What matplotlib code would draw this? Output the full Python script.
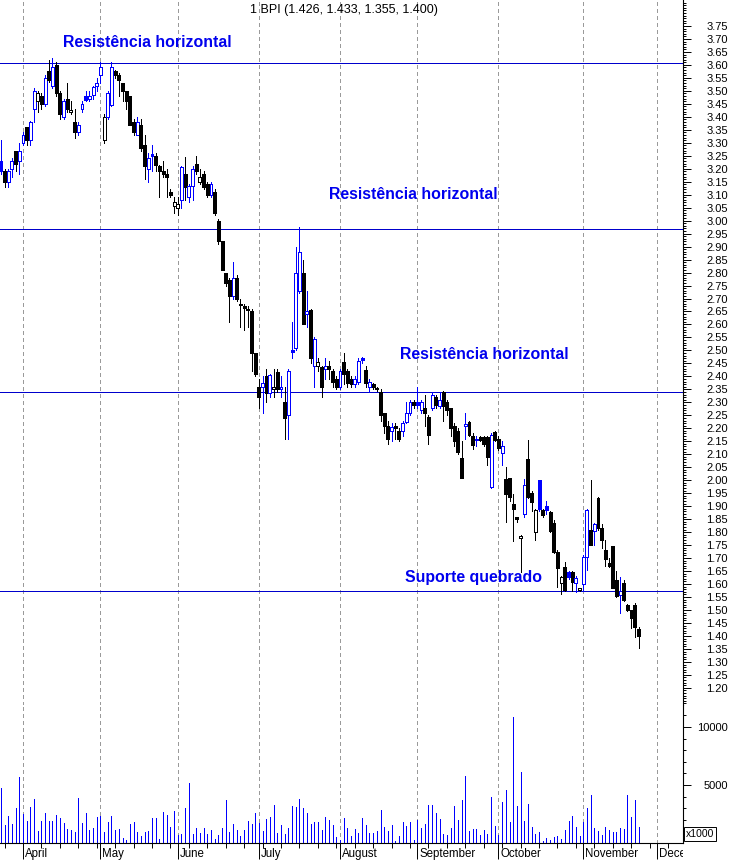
import numpy as np
import matplotlib
matplotlib.use("Agg")
import matplotlib.pyplot as plt
from matplotlib.ticker import FixedLocator, FormatStrFormatter, NullFormatter
from matplotlib.transforms import Bbox, TransformedBbox

plt.rcParams['font.family'] = ['Liberation Sans', 'DejaVu Sans']

# daily OHLC, late March -> late November
opens = [3.23, 3.19, 3.15, 3.20, 3.27, 3.23,
         3.30, 3.36, 3.31, 3.43, 3.46, 3.48, 3.45, 3.575, 3.52, 3.60, 3.49, 3.40, 3.47, 3.42,
         3.38, 3.34, 3.43, 3.48, 3.47, 3.485, 3.52,
         3.56, 3.31, 3.40, 3.445, 3.575, 3.56, 3.53, 3.50, 3.48, 3.38, 3.33, 3.37, 3.29, 3.20,
         3.255, 3.25, 3.21, 3.19, 3.18, 3.11, 3.055,
         3.05, 3.08, 3.18, 3.09, 3.135, 3.22, 3.15, 3.18, 3.14, 3.10, 3.11, 3.00, 2.92, 2.80,
         2.77, 2.71, 2.78, 2.68, 2.67, 2.66, 2.65,
         2.49, 2.36, 2.36, 2.40, 2.335, 2.35, 2.415, 2.35, 2.30, 2.25, 2.50, 2.51, 2.73, 2.80,
         2.64, 2.655, 2.44, 2.44, 2.435, 2.43, 2.44, 2.42, 2.39,
         2.36, 2.455, 2.42, 2.39, 2.37, 2.38, 2.47, 2.425, 2.36, 2.37, 2.355,
         2.34, 2.26, 2.21, 2.19, 2.21, 2.19, 2.19, 2.225, 2.26, 2.30,
         2.30, 2.27, 2.28, 2.245, 2.28, 2.32, 2.285, 2.34, 2.30, 2.28, 2.21, 2.19, 2.085, 2.21,
         2.225, 2.17, 2.155, 2.165, 2.165, 2.165,
         1.975, 2.185, 2.16, 2.105, 2.005, 2.01, 1.91, 1.86, 1.777, 1.87, 2.083, 1.95, 1.80,
         2.00, 1.885, 1.90, 1.877, 1.836, 1.725, 1.605, 1.666, 1.647, 1.647, 1.605, 1.576,
         1.60, 1.705, 1.81, 1.805, 1.93, 1.817, 1.73, 1.68, 1.745, 1.616, 1.557, 1.605, 1.52,
         1.50, 1.52, 1.426]
highs = [3.31, 3.20, 3.20, 3.24, 3.27, 3.30,
         3.34, 3.36, 3.385, 3.51, 3.50, 3.49, 3.56, 3.62, 3.625, 3.61, 3.50, 3.47, 3.53, 3.46,
         3.43, 3.38, 3.46, 3.50, 3.50, 3.52, 3.55,
         3.61, 3.41, 3.50, 3.61, 3.58, 3.57, 3.53, 3.50, 3.48, 3.39, 3.40, 3.39, 3.33, 3.26,
         3.29, 3.26, 3.215, 3.23, 3.20, 3.12, 3.09,
         3.09, 3.21, 3.245, 3.14, 3.21, 3.25, 3.20, 3.19, 3.15, 3.15, 3.12, 3.005, 2.92, 2.80,
         2.78, 2.84, 2.79, 2.70, 2.68, 2.67, 2.66,
         2.49, 2.39, 2.40, 2.43, 2.41, 2.43, 2.43, 2.40, 2.36, 2.43, 2.61, 2.90, 2.975, 2.85,
         2.73, 2.66, 2.55, 2.47, 2.44, 2.47, 2.46, 2.43, 2.40,
         2.43, 2.49, 2.43, 2.40, 2.40, 2.47, 2.475, 2.44, 2.39, 2.375, 2.36,
         2.35, 2.26, 2.23, 2.22, 2.22, 2.20, 2.23, 2.30, 2.31, 2.31,
         2.36, 2.31, 2.33, 2.25, 2.34, 2.33, 2.34, 2.345, 2.31, 2.28, 2.22, 2.20, 2.15, 2.26,
         2.23, 2.18, 2.17, 2.17, 2.17, 2.17,
         2.18, 2.19, 2.17, 2.15, 2.05, 2.01, 1.945, 1.86, 1.79, 2.005, 2.155, 1.96, 1.89,
         2.00, 1.89, 1.92, 1.88, 1.845, 1.73, 1.63, 1.685, 1.65, 1.65, 1.63, 1.586,
         1.71, 1.89, 2.00, 1.835, 1.935, 1.83, 1.77, 1.70, 1.745, 1.65, 1.627, 1.615, 1.525,
         1.50, 1.527, 1.433]
lows = [3.18, 3.13, 3.13, 3.17, 3.19, 3.18,
        3.29, 3.29, 3.29, 3.38, 3.42, 3.43, 3.44, 3.535, 3.51, 3.48, 3.39, 3.39, 3.42, 3.41,
        3.32, 3.33, 3.42, 3.46, 3.46, 3.47, 3.50,
        3.53, 3.30, 3.39, 3.44, 3.55, 3.48, 3.46, 3.43, 3.37, 3.33, 3.33, 3.27, 3.16, 3.15,
        3.19, 3.19, 3.09, 3.17, 3.09, 3.09, 3.03,
        3.02, 3.05, 3.08, 3.07, 3.08, 3.18, 3.14, 3.12, 3.09, 3.09, 3.02, 2.91, 2.81, 2.75,
        2.61, 2.70, 2.69, 2.59, 2.58, 2.59, 2.42,
        2.40, 2.28, 2.26, 2.30, 2.32, 2.32, 2.34, 2.32, 2.16, 2.16, 2.47, 2.50, 2.72, 2.60,
        2.59, 2.45, 2.36, 2.42, 2.32, 2.39, 2.39, 2.36, 2.35,
        2.35, 2.37, 2.36, 2.36, 2.36, 2.37, 2.45, 2.36, 2.34, 2.35, 2.345,
        2.23, 2.18, 2.14, 2.15, 2.16, 2.15, 2.17, 2.22, 2.25, 2.28,
        2.28, 2.26, 2.21, 2.14, 2.27, 2.28, 2.28, 2.23, 2.25, 2.17, 2.13, 2.10, 2.01, 2.16,
        2.17, 2.12, 2.13, 2.15, 2.13, 2.06,
        1.97, 2.15, 2.115, 2.06, 1.84, 1.92, 1.765, 1.84, 1.647, 1.86, 1.93, 1.88, 1.77,
        1.88, 1.86, 1.87, 1.80, 1.72, 1.59, 1.56, 1.575, 1.62, 1.575, 1.57, 1.573,
        1.573, 1.655, 1.75, 1.75, 1.81, 1.74, 1.67, 1.665, 1.585, 1.55, 1.49, 1.535, 1.495,
        1.43, 1.396, 1.355]
closes = [3.19, 3.15, 3.19, 3.23, 3.22, 3.27,
          3.33, 3.31, 3.38, 3.50, 3.49, 3.45, 3.55, 3.54, 3.59, 3.49, 3.41, 3.46, 3.43, 3.425,
          3.34, 3.37, 3.45, 3.465, 3.48, 3.515, 3.53,
          3.59, 3.40, 3.49, 3.59, 3.56, 3.54, 3.50, 3.46, 3.37, 3.34, 3.38, 3.28, 3.21, 3.24,
          3.25, 3.215, 3.19, 3.18, 3.17, 3.10, 3.07,
          3.065, 3.205, 3.13, 3.135, 3.20, 3.19, 3.17, 3.13, 3.10, 3.14, 3.03, 2.92, 2.81, 2.76,
          2.71, 2.78, 2.70, 2.675, 2.665, 2.655, 2.49,
          2.41, 2.32, 2.375, 2.335, 2.405, 2.36, 2.35, 2.36, 2.24, 2.42, 2.495, 2.80, 2.88, 2.60,
          2.65, 2.47, 2.545, 2.455, 2.36, 2.44, 2.43, 2.38, 2.36,
          2.42, 2.41, 2.375, 2.37, 2.39, 2.46, 2.465, 2.375, 2.38, 2.36, 2.35,
          2.25, 2.21, 2.16, 2.205, 2.20, 2.16, 2.22, 2.26, 2.30, 2.29,
          2.29, 2.30, 2.26, 2.175, 2.33, 2.29, 2.31, 2.285, 2.27, 2.20, 2.15, 2.11, 2.01, 2.215,
          2.175, 2.135, 2.16, 2.155, 2.14, 2.09,
          2.175, 2.155, 2.125, 2.13, 1.945, 1.935, 1.89, 1.85, 1.785, 1.98, 1.935, 1.915, 1.885,
          1.89, 1.865, 1.885, 1.806, 1.725, 1.663, 1.627, 1.577, 1.627, 1.608, 1.625, 1.585,
          1.705, 1.885, 1.75, 1.83, 1.815, 1.77, 1.695, 1.67, 1.585, 1.555, 1.573, 1.54, 1.50,
          1.47, 1.435, 1.400]
# volume, thousands of shares
volumes = [4700, 1550, 2330, 1640, 3040, 5660, 2500, 1900, 3100, 3790,
           1030, 1900, 2560, 1900, 1900, 2410, 2180, 1750, 1210, 1120,
           980, 3910, 1720, 2620, 1120, 1320, 2240, 2360, 980, 1810,
           2330, 1150, 1240, 460, 260, 1670, 1810, 980, 630, 980,
           1060, 2180, 2180, 340, 2700, 2410, 1410, 2790, 690, 780,
           3040, 5140, 780, 1320, 890, 1320, 780, 1120, 340, 690,
           1320, 3710, 980, 1610, 1150, 630, 1120, 1920, 1610, 2560,
           1750, 1060, 2100, 2240, 3280, 890, 1580, 780, 1320, 3190,
           3130, 3820, 3040, 2620, 1640, 1780, 1780, 1120, 2270, 1980,
           1550, 540, 260, 2180, 1290, 630, 1210, 890, 2150, 1550,
           890, 890, 1030, 2840, 1380, 1030, 1550, 170, 600, 1810,
           1470, 1810, 300, 2010, 1320, 1640, 3280, 3280, 2590, 2070, 780,
           720, 1320, 3190, 2010, 3710, 5780, 1010, 1180, 1210, 720,
           1120, 780, 3970, 1470, 720, 3530, 4570, 1810, 10890, 3190,
           6120, 1900, 3360, 1410, 780, 920, 200, 430, 250, 540, 630, 340,
           1120, 1900, 2330, 1410, 630, 1810, 3040, 4140, 1320, 1030,
           690, 1410, 1120, 950, 950, 1320, 1240, 4140, 2270, 3710, 1410]

months = ["April", "May", "June", "July", "August", "September", "October", "November", "December"]
month_start = [6, 27, 48, 70, 92, 113, 135, 158, 178]

levels = [3.607, 2.968, 2.34, 1.574]
notes = ["Resistência horizontal", "Resistência horizontal", "Resistência horizontal", "Suporte quebrado"]
note_pos = [(16.85, 3.688), (89.0, 3.099), (108.3, 2.483), (109.6, 1.624)]

n = len(opens)
x = np.arange(n)
o = np.array(opens); h = np.array(highs); l = np.array(lows); c = np.array(closes)
prev = np.r_[c[0] - 1, c[:-1]]
# blue = up on the day, black = down; hollow = close above open
cols = np.where(c >= prev, '#0000ff', '#000000')
faces = np.where(c > o, 'white', cols)
bottoms = np.minimum(o, c)
heights = np.maximum(np.abs(c - o), 0.004)

W, H = 733, 860
PX = 72 / 100   # one pixel in points
fig = plt.figure(figsize=(W / 100, H / 100), dpi=100)
ax = fig.add_axes([0, 1 - 705 / H, 683 / W, 705 / H])
axv = fig.add_axes([0, 17 / H, 683 / W, 138 / H], sharex=ax)

# candles
ax.vlines(x, l, h, colors=cols, linewidth=PX, zorder=2, antialiased=False)
ax.bar(x, heights, bottom=bottoms, width=0.8, color=faces, edgecolor=cols,
       linewidth=PX, zorder=3, antialiased=False)

for v in levels:
    ax.axhline(v, color='#0000cc', linewidth=PX, zorder=1, antialiased=False)

for txt, (px, py) in zip(notes, note_pos):
    ax.text(px, py, txt, color='#0000ee', fontsize=11.4, fontweight='bold',
            ha='left', va='center')

axv.vlines(x, 0, volumes, colors='#0000ff', linewidth=PX, antialiased=False)

for a in (ax, axv):
    for m in month_start:
        a.axvline(m, color='#9a9a9a', linestyle=(0, (3, 3)), linewidth=PX, zorder=0,
                  antialiased=False)
    a.spines['left'].set_visible(False)
    a.spines['top'].set_visible(False)
    a.spines['right'].set_linewidth(0.8)
    a.yaxis.tick_right()
    a.tick_params(axis='y', which='major', direction='out', length=5.8, width=0.7,
                  labelsize=8, pad=26.6)
    a.tick_params(axis='y', which='minor', direction='out', length=2.5, width=0.7)

ax.spines['bottom'].set_visible(False)
ax.set_xlim(-0.24, 185.06)
ax.set_ylim(1.134, 3.850)
ax.yaxis.set_major_locator(FixedLocator(np.round(np.arange(1.20, 3.751, 0.05), 2)))
ax.yaxis.set_major_formatter(FormatStrFormatter('%.2f'))
ax.yaxis.set_minor_locator(FixedLocator(np.round(np.arange(1.14, 3.85, 0.01), 2)))
ax.tick_params(axis='x', which='both', bottom=False, labelbottom=False)

axv.set_ylim(0, 11900)
axv.yaxis.set_major_locator(FixedLocator([5000, 10000]))
axv.yaxis.set_major_formatter(FormatStrFormatter('%d'))
axv.yaxis.set_minor_locator(FixedLocator(np.arange(1000, 11001, 1000)))
axv.spines['bottom'].set_linewidth(0.8)
axv.xaxis.set_major_locator(FixedLocator(month_start))
axv.xaxis.set_major_formatter(NullFormatter())
axv.xaxis.set_minor_locator(FixedLocator(np.arange(1, n + 10, 5)))
axv.tick_params(axis='x', which='major', direction='out', length=11.5, width=0.7)
axv.tick_params(axis='x', which='minor', direction='out', length=3.6, width=0.7)

for a in (ax, axv):
    plt.setp(a.get_yticklabels(), ha='right')

clip = TransformedBbox(Bbox([[0, 0], [683 / W, 1]]), fig.transFigure)
for name, m in zip(months, month_start):
    t = axv.annotate(name, xy=(m, 0), xycoords=('data', 'axes fraction'),
                     xytext=(1.5, -7.6), textcoords='offset points',
                     ha='left', va='center', fontsize=8.3, annotation_clip=False)
    t.set_clip_box(clip)
    t.set_clip_on(True)

fig.text(686 / W, 1 - 834 / H, 'x1000', fontsize=7.5, ha='left', va='center',
         bbox=dict(boxstyle='square,pad=0.2', fc='white', ec='black', lw=0.7))

title = "1 BPI ({:.3f}, {:.3f}, {:.3f}, {:.3f})".format(opens[-1], highs[-1], lows[-1], closes[-1])
fig.text(344 / W, 1 - 10 / H, title, ha='center', va='center', fontsize=9)

fig.savefig('out.png', dpi=100)
